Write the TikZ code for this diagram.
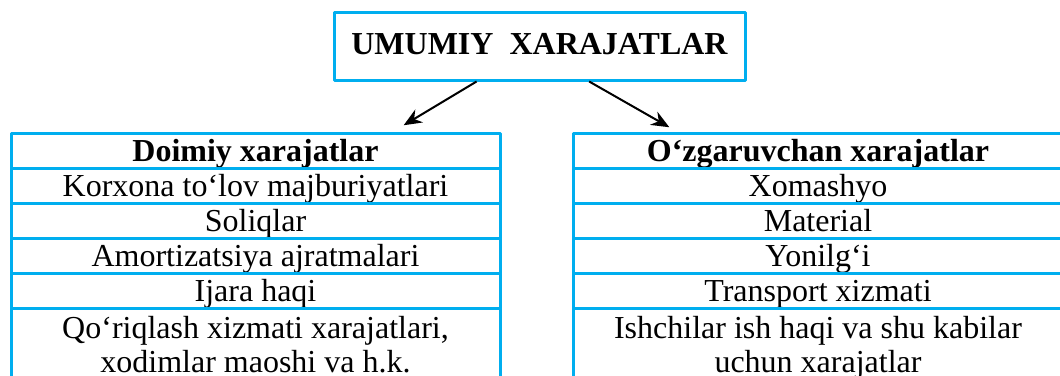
\documentclass[tikz,border=0pt]{standalone}
\usepackage{fontspec}
\setmainfont{Liberation Serif}
\usetikzlibrary{positioning,calc,arrows.meta}
\definecolor{ucyan}{RGB}{0,174,239}
\newcommand\txtsz{\fontsize{16}{17}\selectfont}
\begin{document}
\begin{tikzpicture}[x=0.5pt,y=-0.5pt,>={Stealth[length=9pt,width=7.5pt]},line join=round,font=\txtsz,
    cell/.style={draw=ucyan,line width=1.5pt,minimum width=244.5pt,inner sep=0pt,outer sep=0pt},
    row/.style={cell,minimum height=17.5pt,text height=12pt,text depth=2pt},
    two/.style={cell,align=center,inner ysep=4pt}]
    \useasboundingbox (0,0) rectangle (1060,375);
    \node[draw=ucyan,line width=1.5pt,minimum width=205.5pt,minimum height=33.75pt,text height=11pt,text depth=3pt,font=\txtsz\bfseries] (title) at (539.5,46.25) {UMUMIY~~XARAJATLAR};
    \node[row,font=\txtsz\bfseries] (d0) at (255.5,151.25) {Doimiy xarajatlar};
    \foreach \t [count=\i,evaluate=\i as \j using int(\i-1)] in {Korxona to‘lov majburiyatlari,Soliqlar,Amortizatsiya ajratmalari,Ijara haqi}
    \node[row,below=0pt of d\j] (d\i) {\t};
    \node[two,below=0pt of d4] (d5) {Qo‘riqlash xizmati xarajatlari,\\xodimlar maoshi va h.k.};
    \node[row,font=\txtsz\bfseries] (o0) at (818,151.25) {O‘zgaruvchan xarajatlar};
    \foreach \t [count=\i,evaluate=\i as \j using int(\i-1)] in {Xomashyo,Material,Yonilg‘i,Transport xizmati}
    \node[row,below=0pt of o\j] (o\i) {\t};
    \node[two,below=0pt of o4] (o5) {Ishchilar ish haqi va shu kabilar\\uchun xarajatlar};
    \draw[->,line width=1pt] ($(title.south west)!.348!(title.south east)$) -- ($(d0.north west)!.803!(d0.north east)+(0,-8.5)$);
    \draw[->,line width=1pt] ($(title.south west)!.62!(title.south east)$) -- ($(o0.north west)!.196!(o0.north east)+(0,-6.5)$);
\end{tikzpicture}
\end{document}
